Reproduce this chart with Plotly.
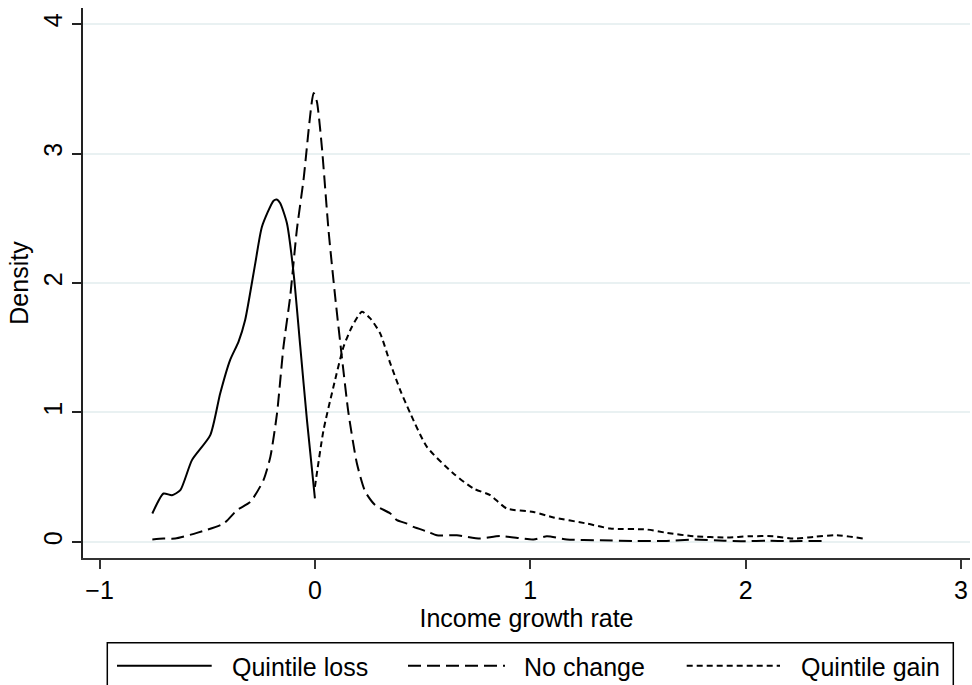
import plotly.graph_objects as go

# ---- data ----
loss_x = [-0.755, -0.703, -0.664, -0.625, -0.571, -0.486, -0.440, -0.394, -0.355, -0.324,
          -0.277, -0.246, -0.192, -0.177, -0.161, -0.130, -0.099, -0.068, -0.037, 0.0]
loss_y = [0.220, 0.374, 0.361, 0.400, 0.632, 0.825, 1.147, 1.405, 1.546, 1.714,
          2.152, 2.435, 2.636, 2.645, 2.616, 2.462, 2.075, 1.508, 0.941, 0.336]

nochange_x = [-0.755, -0.703, -0.649, -0.548, -0.424, -0.362, -0.300, -0.239, -0.207, -0.176,
              -0.146, -0.115, -0.084, -0.053, -0.006, 0.009, 0.032, 0.063, 0.094, 0.125,
              0.156, 0.195, 0.234, 0.280, 0.350, 0.381, 0.427, 0.458, 0.527, 0.566,
              0.659, 0.767, 0.860, 1.015, 1.077, 1.170, 1.325, 1.479, 1.634, 1.758,
              1.900, 2.000, 2.100, 2.200, 2.360]
nochange_y = [0.019, 0.026, 0.026, 0.070, 0.142, 0.245, 0.309, 0.477, 0.657, 0.993,
              1.508, 1.894, 2.410, 2.796, 3.467, 3.402, 3.054, 2.410, 1.894, 1.430,
              0.993, 0.606, 0.387, 0.284, 0.220, 0.168, 0.142, 0.116, 0.077, 0.052,
              0.052, 0.026, 0.046, 0.019, 0.044, 0.019, 0.013, 0.008, 0.008, 0.019,
              0.010, 0.006, 0.010, 0.006, 0.008]

gain_x = [0.0, 0.040, 0.086, 0.133, 0.172, 0.218, 0.257, 0.303, 0.350, 0.396,
          0.443, 0.520, 0.643, 0.736, 0.814, 0.891, 1.015, 1.108, 1.263, 1.371,
          1.541, 1.634, 1.758, 1.913, 2.021, 2.129, 2.222, 2.315, 2.423, 2.547]
gain_y = [0.425, 0.864, 1.198, 1.508, 1.662, 1.778, 1.727, 1.611, 1.379, 1.173,
          0.993, 0.734, 0.529, 0.413, 0.361, 0.258, 0.232, 0.189, 0.142, 0.104,
          0.096, 0.070, 0.044, 0.034, 0.044, 0.044, 0.026, 0.039, 0.052, 0.026]

series_names = ["Quintile loss", "No change", "Quintile gain"]
x_ticks = [-1, 0, 1, 2, 3]
x_tick_text = ["\u22121", "0", "1", "2", "3"]
y_ticks = [0, 1, 2, 3, 4]

FONT = "Liberation Sans, Arial, Helvetica, sans-serif"
FS = 25
dashes = ["solid", "13px,6px", "6px,4px"]

fig = go.Figure()
for xs, ys, name, d in zip([loss_x, nochange_x, gain_x], [loss_y, nochange_y, gain_y],
                           series_names, dashes):
    fig.add_trace(go.Scatter(x=xs, y=ys, mode="lines", name=name, showlegend=False,
                             line=dict(color="black", width=2, dash=d,
                                       shape="spline", smoothing=0.6)))

# plot region in pixels
L, R, T, B = 83, 970, 8, 557.7
W = R - L
H = B - T
def px(x):
    return (x - L) / W
def py(y):
    return (B - y) / H

fig.update_layout(
    width=972, height=685,
    margin=dict(l=L, r=972 - R, t=T, b=685 - B, pad=0),
    paper_bgcolor="white", plot_bgcolor="white",
    font=dict(family=FONT, size=FS, color="black"),
    xaxis=dict(range=[-1.077, 3.042], tickvals=x_ticks, ticktext=x_tick_text,
               showgrid=False, zeroline=False, showline=True, linecolor="#333333",
               linewidth=2, ticks="outside", ticklen=9, tickwidth=1.5, tickcolor="#333333",
               tickfont=dict(size=FS, family=FONT, color="black"),
               title=dict(text="Income growth rate", standoff=3,
                          font=dict(size=FS, family=FONT, color="black"))),
    yaxis=dict(range=[-0.124, 4.124], tickvals=y_ticks, tickangle=-90,
               showgrid=True, gridcolor="#e9f1f2", gridwidth=1.5, zeroline=False,
               showline=True, linecolor="#222222", linewidth=1.5, ticks="outside",
               ticklen=9, tickwidth=1.5, tickcolor="#222222",
               tickfont=dict(size=FS, family=FONT, color="black"),
               title=dict(text="Density", standoff=4,
                          font=dict(size=FS, family=FONT, color="black"))),
)

# legend box (manual, Stata style)
fig.add_shape(type="rect", xref="paper", yref="paper",
              x0=px(107.3), x1=px(953.3), y0=py(700), y1=py(642.5),
              line=dict(color="black", width=1.5), fillcolor="rgba(0,0,0,0)", layer="above")
leg_y = 665.5
leg_items = [(117, 211.7, 230), (408, 505, 521.7), (686.7, 780, 799.3)]
for (a, b, t), name, d in zip(leg_items, series_names, dashes):
    fig.add_shape(type="line", xref="paper", yref="paper",
                  x0=px(a), x1=px(b), y0=py(leg_y), y1=py(leg_y),
                  line=dict(color="black", width=2, dash=d))
    fig.add_annotation(xref="paper", yref="paper", x=px(t), y=py(leg_y + 1),
                       text=name, showarrow=False, xanchor="left", yanchor="middle",
                       font=dict(size=FS, family=FONT, color="black"))

fig.write_html("out.html")
